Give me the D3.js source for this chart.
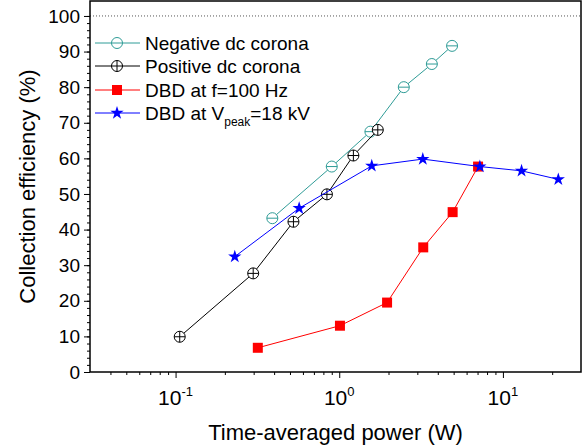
<!DOCTYPE html>
<html>
<head>
<meta charset="utf-8">
<script src="https://cdn.jsdelivr.net/npm/d3@7"></script>
<style>
  body { margin: 0; background: #fff; }
  svg { font-family: "Liberation Sans", Arial, sans-serif; }
</style>
</head>
<body>
<div id="chart"></div>
<script>
// Data
const negPower = [0.39, 0.90, 1.55, 2.48, 3.68, 4.89];
const negEff   = [43.2, 57.7, 67.5, 80.0, 86.5, 91.6];

const posPower = [0.106, 0.298, 0.525, 0.841, 1.22, 1.72];
const posEff   = [9.9, 27.7, 42.2, 49.9, 60.8, 68.0];

const dbdFreqPower = [0.318, 1.01, 1.96, 3.26, 4.93, 7.05];
const dbdFreqEff   = [6.8, 13.0, 19.5, 35.0, 44.9, 57.7];

const dbdVoltPower = [0.230, 0.569, 1.58, 3.24, 7.23, 13.0, 21.8];
const dbdVoltEff   = [32.4, 46.0, 57.9, 59.8, 57.7, 56.5, 54.1];

const xMajorTicks = [0.1, 1, 10];
const xTickExp = ["-1", "0", "1"];
const xMinorTicks = [0.04, 0.05, 0.06, 0.07, 0.08, 0.09, 0.2, 0.3, 0.4, 0.5, 0.6, 0.7, 0.8, 0.9,
                     2, 3, 4, 5, 6, 7, 8, 9, 20];
const yMajorTicks = [0, 10, 20, 30, 40, 50, 60, 70, 80, 90, 100];

// Set the dimensions and margins of the graph
const margin = { top: 1, right: 2, bottom: 74, left: 90 },
    width = 583 - margin.left - margin.right,
    height = 446 - margin.top - margin.bottom;

const root = d3.select("#chart")
    .append("svg")
    .attr("width", 583)
    .attr("height", 446);

const svg = root.append("g")
    .attr("transform", `translate(${margin.left},${margin.top})`);

const x = d3.scaleLog()
    .domain([0.03, 30])
    .range([0, width]);

const y = d3.scaleLinear()
    .domain([0, 104.2])
    .range([height, 0]);

// dotted line at 100 %
svg.append("line")
    .attr("x1", 0).attr("x2", width)
    .attr("y1", y(100)).attr("y2", y(100))
    .attr("stroke", "#555")
    .attr("stroke-width", 1)
    .attr("stroke-dasharray", "1,2");

// X axis: minor then major ticks
svg.append("g")
    .attr("transform", `translate(0, ${height})`)
    .call(d3.axisBottom(x).tickValues(xMinorTicks).tickSize(3).tickFormat(""))
    .call(g => g.select(".domain").remove());

const xAxis = svg.append("g")
    .attr("transform", `translate(0, ${height})`)
    .call(d3.axisBottom(x).tickValues(xMajorTicks).tickSize(6).tickFormat(""));
xAxis.select(".domain").remove();

xMajorTicks.forEach((v, i) => {
    const t = svg.append("text")
        .attr("x", x(v))
        .attr("y", height + 33)
        .attr("text-anchor", "middle")
        .style("font-size", "21px");
    t.append("tspan").text("10");
    t.append("tspan")
        .attr("dy", -9)
        .style("font-size", "13px")
        .text(xTickExp[i]);
});

// Y axis
svg.append("g")
    .call(d3.axisLeft(y).tickValues(d3.range(0, 101, 2)).tickSize(3).tickFormat(""))
    .call(g => g.select(".domain").remove());

svg.append("g")
    .call(d3.axisLeft(y).tickValues(yMajorTicks).tickSize(6).tickPadding(4))
    .call(g => g.select(".domain").remove())
    .selectAll("text")
    .style("font-size", "19px")
    .style("font-family", "'Liberation Sans', Arial, sans-serif")
    .attr("fill", "#000");

svg.selectAll(".tick line").attr("stroke", "#000");

// Frame
svg.append("rect")
    .attr("x", 0).attr("y", 0)
    .attr("width", width).attr("height", height)
    .attr("fill", "none")
    .attr("stroke", "#000")
    .attr("stroke-width", 1.5);

// Series
const series = [
    { name: "neg", px: negPower, py: negEff, color: "#2f9c97", marker: "circleMinus" },
    { name: "pos", px: posPower, py: posEff, color: "#000000", marker: "circlePlus" },
    { name: "freq", px: dbdFreqPower, py: dbdFreqEff, color: "#ff0000", marker: "square" },
    { name: "volt", px: dbdVoltPower, py: dbdVoltEff, color: "#0000ff", marker: "star" }
];

function drawMarker(g, cx, cy, s) {
    const m = g.append("g").attr("transform", `translate(${cx},${cy})`);
    if (s.marker === "circleMinus" || s.marker === "circlePlus") {
        const r = 5.5;
        m.append("circle").attr("r", r).attr("fill", "#fff")
            .attr("stroke", s.color).attr("stroke-width", 1);
        m.append("line").attr("x1", -r).attr("x2", r).attr("y1", 0).attr("y2", 0)
            .attr("stroke", s.color).attr("stroke-width", 1);
        if (s.marker === "circlePlus") {
            m.append("line").attr("x1", 0).attr("x2", 0).attr("y1", -r).attr("y2", r)
                .attr("stroke", s.color).attr("stroke-width", 1);
        }
    } else if (s.marker === "square") {
        m.append("path").attr("d", d3.symbol().type(d3.symbolSquare).size(100)())
            .attr("fill", s.color);
    } else {
        m.append("path").attr("d", d3.symbol().type(d3.symbolStar).size(55)())
            .attr("fill", s.color);
    }
}

const line = d3.line()
    .x(d => x(d[0]))
    .y(d => y(d[1]));

series.forEach(s => {
    const pts = s.px.map((v, i) => [v, s.py[i]]);
    svg.append("path")
        .datum(pts)
        .attr("fill", "none")
        .attr("stroke", s.color)
        .attr("stroke-width", 1)
        .attr("d", line);
    const g = svg.append("g");
    pts.forEach(p => drawMarker(g, x(p[0]), y(p[1]), s));
});

// Legend
const legendRows = [43, 66, 90, 113];
const legend = root.append("g");
series.forEach((s, i) => {
    const ly = legendRows[i];
    legend.append("line")
        .attr("x1", 95).attr("x2", 140)
        .attr("y1", ly).attr("y2", ly)
        .attr("stroke", s.color).attr("stroke-width", 1);
    drawMarker(legend, 117, ly, s);
});
const legendText = ["Negative dc corona", "Positive dc corona", "DBD at f=100 Hz"];
legendText.forEach((t, i) => {
    legend.append("text")
        .attr("x", 145).attr("y", legendRows[i] + 7)
        .style("font-size", "19px")
        .text(t);
});
const vt = legend.append("text")
    .attr("x", 145).attr("y", legendRows[3] + 7)
    .style("font-size", "19px");
vt.append("tspan").text("DBD at V");
vt.append("tspan").attr("dy", 6).style("font-size", "12px").text("peak");
vt.append("tspan").attr("dy", -6).text("=18 kV");

// Axis titles
root.append("text")
    .attr("x", margin.left + width / 2)
    .attr("y", 440)
    .attr("text-anchor", "middle")
    .style("font-size", "22px")
    .text("Time-averaged power (W)");

root.append("text")
    .attr("transform", "rotate(-90)")
    .attr("x", -(margin.top + height / 2))
    .attr("y", 35)
    .attr("text-anchor", "middle")
    .style("font-size", "22px")
    .text("Collection efficiency (%)");
</script>
</body>
</html>
